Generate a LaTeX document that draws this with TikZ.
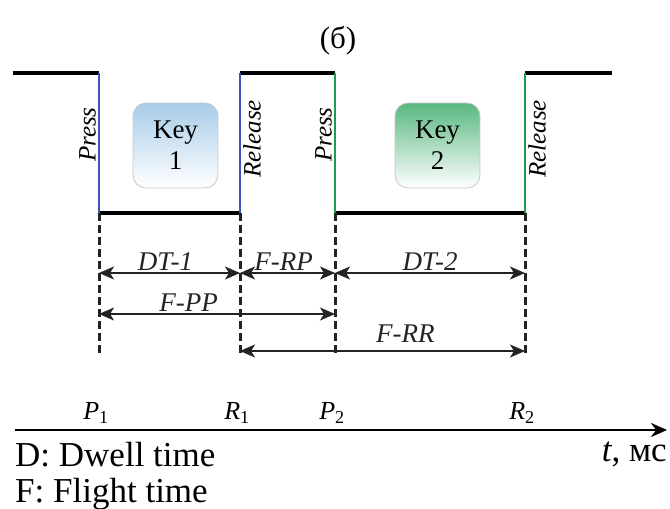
\documentclass[tikz,border=0pt]{standalone}
\usepackage{fontspec}
\setmainfont{Liberation Serif}
\usetikzlibrary{arrows.meta,positioning,calc}
\definecolor{key_blue}{RGB}{60, 84, 190}
\definecolor{key_green}{RGB}{28, 158, 78}
\definecolor{fill_blue}{RGB}{168, 204, 232}
\definecolor{fill_green}{RGB}{88, 184, 128}
\definecolor{dim_gray}{RGB}{35, 35, 35}
\tikzset{
	level/.style={line width=4pt, black},
	edge/.style={line width=2pt},
	guide/.style={line width=3pt, dim_gray, dash pattern=on 8pt off 4pt},
	dim/.style={{Stealth[length=15pt,width=13pt,inset=4pt]}-{Stealth[length=15pt,width=13pt,inset=4pt]}, line width=1.6pt, dim_gray},
	dimlabel/.style={font=\rmfamily\fontsize{27}{30}\selectfont\itshape, inner sep=2pt},
	keybox/.style={draw=black!22, rounded corners=13pt, minimum width=85pt, minimum height=85pt,
		align=center, font=\rmfamily\fontsize{27}{31}\selectfont, line width=0.8pt},
	event/.style={rotate=90, font=\rmfamily\fontsize{25}{28}\selectfont\itshape, inner sep=3pt},
	caption/.style={font=\rmfamily\fontsize{35}{38}\selectfont, inner sep=0pt},
}

\begin{document}
\begin{tikzpicture}[x=1pt, y=-1pt]
	\useasboundingbox (0,0) rectangle (670,509);

	\def\ytop{73}
	\def\ybot{213}
	\def\yend{356}

	% key instants
	\foreach \name/\x in {p1/99, r1/240, p2/335, r2/525}{
			\coordinate (\name-top) at (\x,\ytop);
			\coordinate (\name-bot) at (\x,\ybot);
			\coordinate (\name-end) at (\x,\yend);
		}
	\coordinate (start) at (13,\ytop);
	\coordinate (stop) at (612,\ytop);

	% title
	\node[font=\rmfamily\fontsize{31}{33}\selectfont] (title) at (338,41) {(б)};

	% signal levels
	\draw[level] (start) -- (p1-top);
	\draw[level] (p1-bot) -- (r1-bot);
	\draw[level] (r1-top) -- (p2-top);
	\draw[level] (p2-bot) -- (r2-bot);
	\draw[level] (r2-top) -- (stop);
	\draw[edge, key_blue] (p1-top) -- (p1-bot);
	\draw[edge, key_blue] (r1-top) -- (r1-bot);
	\draw[edge, key_green] (p2-top) -- (p2-bot);
	\draw[edge, key_green] (r2-top) -- (r2-bot);

	% keys
	\node[keybox, top color=fill_blue, bottom color=white] (key1) at (175.5,145.5) {Key\\1};
	\node[keybox, top color=fill_green, bottom color=white] (key2) at (437.5,145.5) {Key\\2};

	\node[event, anchor=south] (press1) at ($(p1-top)!0.44!(p1-bot)$) {Press};
	\node[event, anchor=north] (release1) at ($(r1-top)!0.47!(r1-bot)$) {Release};
	\node[event, anchor=south] (press2) at ($(p2-top)!0.44!(p2-bot)$) {Press};
	\node[event, anchor=north] (release2) at ($(r2-top)!0.47!(r2-bot)$) {Release};

	% dashed guides
	\foreach \name in {p1,r1,p2,r2}{
			\draw[guide] (\name-bot) -- (\name-end);
		}

	% intervals
	\coordinate (row1) at (0,273);
	\coordinate (row2) at (0,314);
	\coordinate (row3) at (0,351);

	\draw[dim] (p1-bot |- row1) -- node[dimlabel, above, xshift=-4pt] (dt1) {DT-1} (r1-bot |- row1);
	\draw[dim] (r1-bot |- row1) -- node[dimlabel, above, xshift=-4pt] (frp) {F-RP} (p2-bot |- row1);
	\draw[dim] (p2-bot |- row1) -- node[dimlabel, above] (dt2) {DT-2} (r2-bot |- row1);
	\draw[dim] (p1-bot |- row2) -- node[dimlabel, above, pos=0.38] (fpp) {F-PP} (p2-bot |- row2);
	\draw[dim] (r1-bot |- row3) -- node[dimlabel, above=6pt, pos=0.58] (frr) {F-RR} (r2-bot |- row3);

	% time axis
	\coordinate (axis-start) at (15,430);
	\coordinate (axis-end) at (667,430);
	\draw[line width=2.4pt, -{Stealth[length=16pt,width=14pt]}] (axis-start) -- (axis-end);
	\foreach \name/\lbl in {p1/P, r1/R, p2/P, r2/R}{
			\node[font=\rmfamily\fontsize{26}{28}\selectfont, above=3pt, xshift=-3pt] (\name-lbl) at (\name-bot |- axis-start)
			{\textit{\lbl}\textsubscript{\ifnum\pdfstrcmp{\name}{p1}=0 1\else\ifnum\pdfstrcmp{\name}{r1}=0 1\else 2\fi\fi}};
		}
	\node[caption, anchor=north west] (dwell) at (15,442) {D: Dwell time};
	\node[caption, anchor=north west] (flight) at (15,478) {F: Flight time};
	\node[caption, anchor=north east] (unit) at (667,442) {\textit{t}, мс};

\end{tikzpicture}
\end{document}
